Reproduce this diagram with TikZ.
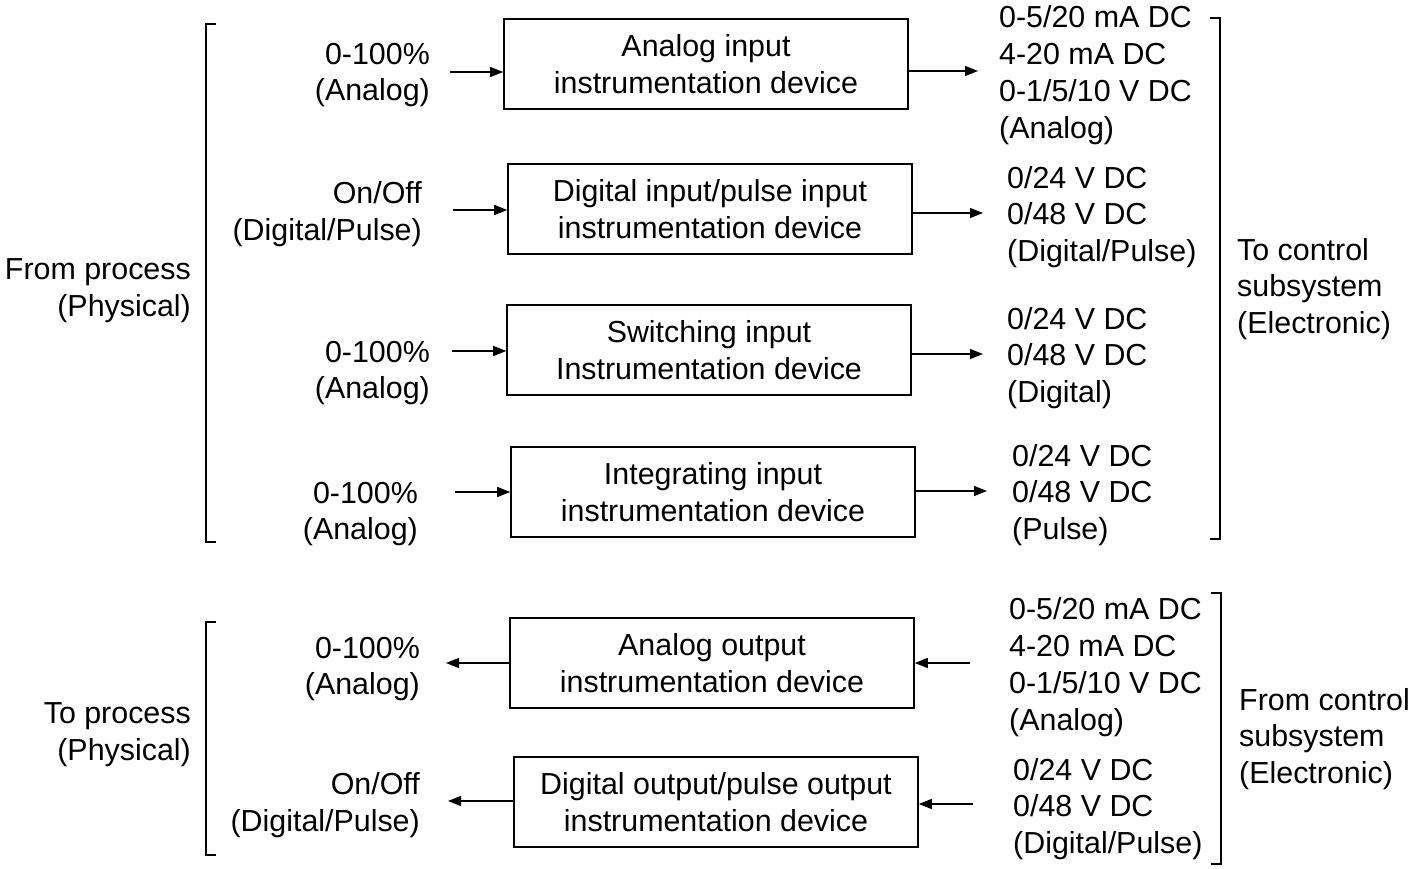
\documentclass[tikz,border=0pt]{standalone}
\usepackage{fontspec}
\setmainfont{Liberation Sans}
\usetikzlibrary{arrows.meta}
\tikzset{
  txt/.style={font=\fontsize{30.4}{36.8}\selectfont, inner sep=0pt},
  lbl/.style={txt, align=right, anchor=east},
  rlbl/.style={txt, align=left, anchor=west},
  dev/.style={txt, draw, line width=1.6pt, minimum width=404, minimum height=90, align=center},
  arr/.style={line width=1.4pt, -{Triangle[length=13pt,width=10pt]}},
  brk/.style={line width=1.5pt}
}
\begin{document}
\begin{tikzpicture}[x=1pt,y=-1pt]
\useasboundingbox (0,0) rectangle (1415,869);
% boxes
\node[dev] (b1) at (706,64) {Analog input\\instrumentation device};
\node[dev] (b2) at (710,209) {Digital input/pulse input\\instrumentation device};
\node[dev] (b3) at (709,350) {Switching input\\Instrumentation device};
\node[dev] (b4) at (713,492) {Integrating input\\instrumentation device};
\node[dev] (b5) at (712,663) {Analog output\\instrumentation device};
\node[dev] (b6) at (716,802) {Digital output/pulse output\\instrumentation device};
% left labels
\node[lbl] (l1) at (430,75) {0-100\%\\(Analog)};
\node[lbl] (l2) at (422,214) {On/Off\\(Digital/Pulse)};
\node[lbl] (l3) at (430,373) {0-100\%\\(Analog)};
\node[lbl] (l4) at (418,514) {0-100\%\\(Analog)};
\node[lbl] (l5) at (420,669) {0-100\%\\(Analog)};
\node[lbl] (l6) at (420,805) {On/Off\\(Digital/Pulse)};
% right labels
\node[rlbl] (r1) at (999,75) {0-5/20 mA DC\\4-20 mA DC\\0-1/5/10 V DC\\(Analog)};
\node[rlbl] (r2) at (1007,217) {0/24 V DC\\0/48 V DC\\(Digital/Pulse)};
\node[rlbl] (r3) at (1007,358) {0/24 V DC\\0/48 V DC\\(Digital)};
\node[rlbl] (r4) at (1012,495) {0/24 V DC\\0/48 V DC\\(Pulse)};
\node[rlbl] (r5) at (1009,667) {0-5/20 mA DC\\4-20 mA DC\\0-1/5/10 V DC\\(Analog)};
\node[rlbl] (r6) at (1013,809) {0/24 V DC\\0/48 V DC\\(Digital/Pulse)};
% side labels
\node[lbl] (fp) at (191,291) {From process\\(Physical)};
\node[rlbl] (tc) at (1237,289) {To control\\subsystem\\(Electronic)};
\node[lbl] (tp) at (191,735) {To process\\(Physical)};
\node[rlbl] (fc) at (1239,739) {From control\\subsystem\\(Electronic)};
% arrow anchors
\coordinate (a1) at (450,72);
\coordinate (a2) at (453,210);
\coordinate (a3) at (452,351);
\coordinate (a4) at (455,492);
\coordinate (o1) at (978,71);
\coordinate (o2) at (983,213);
\coordinate (o3) at (983,354);
\coordinate (o4) at (987,491);
\coordinate (p5) at (446,663);
\coordinate (p6) at (448,801);
\coordinate (q5) at (970,663);
\coordinate (q6) at (973,804);
% input arrows
\draw[arr] (a1) -- (a1 -| b1.west);
\draw[arr] (a2) -- (a2 -| b2.west);
\draw[arr] (a3) -- (a3 -| b3.west);
\draw[arr] (a4) -- (a4 -| b4.west);
\draw[arr] (o1 -| b1.east) -- (o1);
\draw[arr] (o2 -| b2.east) -- (o2);
\draw[arr] (o3 -| b3.east) -- (o3);
\draw[arr] (o4 -| b4.east) -- (o4);
% output arrows
\draw[arr] (p5 -| b5.west) -- (p5);
\draw[arr] (p6 -| b6.west) -- (p6);
\draw[arr] (q5) -- (q5 -| b5.east);
\draw[arr] (q6) -- (q6 -| b6.east);
% brackets
\draw[brk] (216,24) -- (206,24) -- (206,542) -- (216,542);
\draw[brk] (1210,18) -- (1220,18) -- (1220,539) -- (1210,539);
\draw[brk] (216,622) -- (206,622) -- (206,855) -- (216,855);
\draw[brk] (1211,593) -- (1221,593) -- (1221,864) -- (1211,864);
\end{tikzpicture}
\end{document}
